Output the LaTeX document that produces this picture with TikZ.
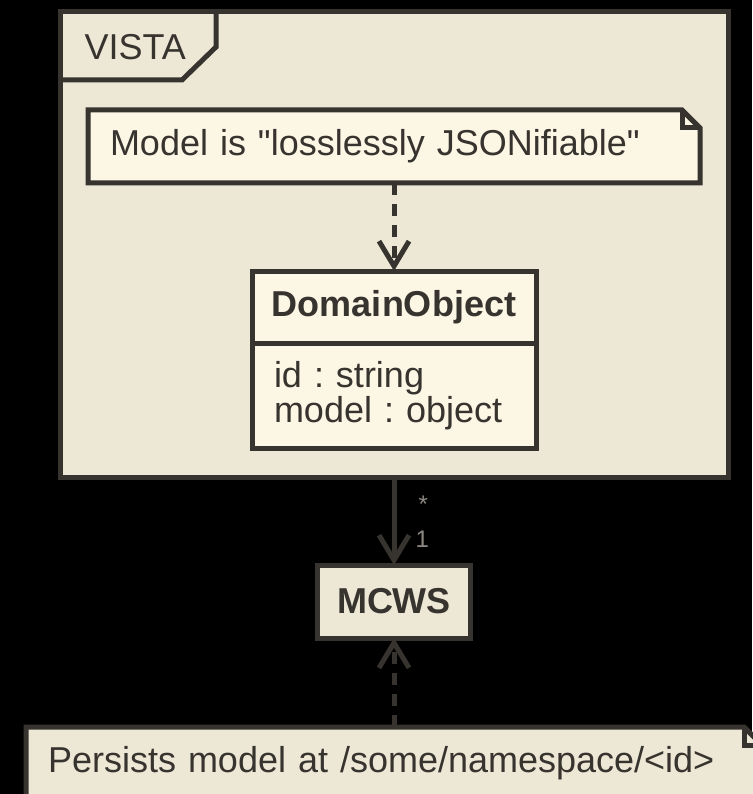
\documentclass[tikz,border=0pt]{standalone}
\usepackage{fontspec}
\setmainfont{Liberation Sans}
\frenchspacing
\usetikzlibrary{positioning,arrows.meta}

\definecolor{umlline}{HTML}{37342F}
\definecolor{umlback}{HTML}{EDE7D6}
\definecolor{umlpale}{HTML}{FCF6E5}
\definecolor{umlmult}{HTML}{8C8982}

\tikzset{
  box/.style={draw, fill=umlback, inner sep=0pt, outer sep=0pt},
  note/.style={inner xsep=22pt, inner ysep=0pt, outer sep=0pt, minimum height=73pt, align=left},
  dep/.style={->, dash pattern=on 12pt off 9pt},
  mult/.style={font=\fontsize{24}{24}\selectfont, text=umlmult, inner sep=0pt, anchor=base west}
}

\begin{document}
\begin{tikzpicture}[x=1pt, y=1pt, line width=5pt, color=umlline,
    font=\fontsize{36}{35}\selectfont,
    >={Straight Barb[length=25pt, width=30pt]}]
  \useasboundingbox (0,0) rectangle (752,-794);
  \fill[black] (0,0) rectangle (752,-794);

  \node (V) [box, minimum width=668pt, minimum height=465pt] at (394,-244.5) {};
  \draw (V.north west) ++(0,-68) -- ++(122,0) -- ++(34,33) -- ++(0,35);
  \node (T) [anchor=base west, inner sep=0pt] at ([shift={(22,-48)}]V.north west) {VISTA};

  \draw[fill=umlpale] node (J) [note, text width=568pt, below=98pt of V.north] {Model is \textquotedbl losslessly JSONifiable\textquotedbl}
    (J.south west) |- ([xshift=-18pt]J.north east) -- ([yshift=-18pt]J.north east) -- (J.south east) -- cycle;
  \draw ([xshift=-18pt]J.north east) |- ([yshift=-18pt]J.north east);

  \node (D) [box, fill=umlpale, below=88pt of J, minimum width=284pt, minimum height=72pt] {\textbf{DomainObject}};
  \node (A) [box, fill=umlpale, below=0pt of D, inner xsep=22pt, text width=240pt, minimum height=105pt, align=left] {id : string\\model : object};

  \node (M) [box, below=88pt of V.south, minimum width=153pt, minimum height=73pt] {\textbf{MCWS}};

  \draw[fill=umlback] node (P) [note, text width=692pt, below=89pt of M] {Persists model at /some/namespace/<id>}
    (P.south west) |- ([xshift=-18pt]P.north east) -- ([yshift=-18pt]P.north east) -- (P.south east) -- cycle;
  \draw ([xshift=-18pt]P.north east) |- ([yshift=-18pt]P.north east);

  \draw[dep] (J) -- (D);
  \draw[->] (V) -- (M) node[mult, pos=0, xshift=22pt, yshift=-35pt] {*}
    node[mult, pos=0, xshift=19pt, yshift=-70pt] {1};
  \draw[dep] (P) -- (M);
\end{tikzpicture}
\end{document}
